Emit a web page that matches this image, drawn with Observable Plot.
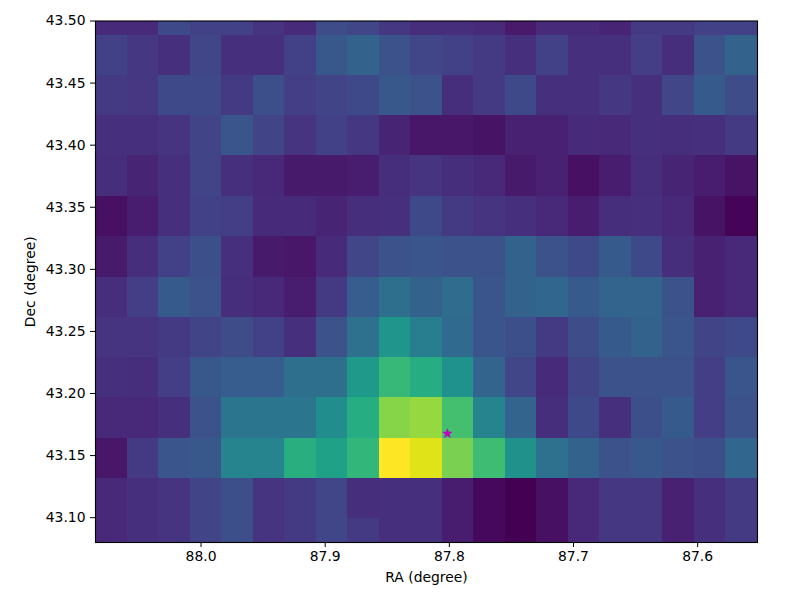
<!DOCTYPE html>
<html>
<head>
<meta charset="utf-8">
<script src="https://cdn.jsdelivr.net/npm/d3@7"></script>
<script src="https://cdn.jsdelivr.net/npm/@observablehq/plot@0.6"></script>
<style>html,body{margin:0;padding:0;background:#fff}svg{display:block}</style>
</head>
<body>
<div id="chart"></div>
<script>
const raEdges = [88.085,88.0596,88.0342,88.0088,87.9834,87.9581,87.9327,87.9073,87.8819,87.8565,87.8311,87.8057,87.7803,87.7549,87.7295,87.7042,87.6788,87.6534,87.6280,87.6026,87.5772,87.5518];
const decEdges = [43.50,43.4887,43.4562,43.4237,43.3913,43.3588,43.3263,43.2938,43.2614,43.2289,43.1964,43.1639,43.1315,43.0990,43.08];
const row00 = [.12,.12,.22,.19,.19,.15,.12,.23,.21,.16,.13,.13,.12,.07,.12,.12,.1,.17,.17,.19,.19];
const row01 = [.19,.16,.14,.21,.14,.14,.19,.27,.31,.25,.21,.19,.17,.14,.19,.14,.14,.18,.13,.25,.31];
const row02 = [.17,.16,.22,.22,.17,.24,.18,.2,.22,.27,.25,.13,.17,.22,.14,.14,.16,.14,.21,.28,.23];
const row03 = [.14,.14,.15,.2,.26,.2,.15,.19,.16,.1,.06,.06,.05,.09,.09,.12,.11,.14,.13,.14,.17];
const row04 = [.13,.1,.14,.2,.14,.11,.07,.07,.08,.13,.15,.13,.11,.07,.09,.04,.08,.13,.1,.08,.05];
const row05 = [.04,.08,.14,.19,.18,.12,.12,.1,.13,.14,.22,.17,.15,.14,.11,.08,.13,.14,.11,.05,.01];
const row06 = [.07,.13,.19,.24,.14,.07,.06,.12,.21,.25,.26,.25,.25,.31,.25,.22,.28,.22,.13,.09,.11];
const row07 = [.13,.18,.28,.25,.13,.11,.08,.17,.29,.36,.31,.35,.26,.31,.33,.28,.32,.32,.25,.09,.11];
const row08 = [.15,.15,.17,.2,.23,.19,.14,.25,.37,.52,.42,.34,.26,.24,.17,.23,.28,.31,.26,.2,.22];
const row09 = [.14,.13,.18,.27,.29,.29,.36,.36,.54,.67,.62,.51,.32,.21,.12,.2,.25,.25,.25,.18,.26];
const row10 = [.11,.11,.14,.25,.39,.39,.39,.49,.62,.82,.84,.7,.45,.32,.13,.22,.14,.24,.28,.18,.25];
const row11 = [.06,.17,.26,.27,.45,.45,.63,.57,.66,1,.95,.8,.69,.5,.37,.31,.25,.27,.25,.24,.33];
const row12 = [.11,.14,.15,.2,.24,.15,.17,.21,.13,.14,.14,.08,.02,0,.04,.11,.16,.16,.09,.14,.17];
const row13 = [.11,.14,.15,.2,.24,.15,.17,.21,.17,.14,.14,.08,.02,0,.04,.11,.16,.16,.09,.14,.17];
const rows = [row00,row01,row02,row03,row04,row05,row06,row07,row08,row09,row10,row11,row12,row13];
const raTicks = [88.0,87.9,87.8,87.7,87.6];
const decTicks = [43.10,43.15,43.20,43.25,43.30,43.35,43.40,43.45,43.50];
const source = [{ra:87.8016, dec:43.1677}];

const cells = rows.flatMap((r, j) => r.map((v, i) => ({
  ra1: raEdges[i], ra2: raEdges[i + 1], dec1: decEdges[j + 1], dec2: decEdges[j], v
})));

const plot = Plot.plot({
  width: 800, height: 600,
  marginLeft: 95, marginRight: 43, marginTop: 20.5, marginBottom: 58,
  style: {fontFamily: "'DejaVu Sans'", fontSize: "13.9px", background: "#fff", color: "#000"},
  x: {domain: [88.085, 87.5518]},
  y: {domain: [43.08, 43.50]},
  color: {type: "linear", scheme: "viridis", domain: [0, 1]},
  marks: [
    Plot.rect(cells, {x1: "ra1", x2: "ra2", y1: "dec1", y2: "dec2", fill: "v", shapeRendering: "crispEdges"}),
    Plot.dot(source, {x: "ra", y: "dec", symbol: "star", r: 2.9, fill: "#bf00bf", stroke: "#bf00bf", strokeWidth: 0.6}),
    Plot.frame({stroke: "#000", strokeWidth: 1.1}),
    Plot.axisX({ticks: raTicks, tickFormat: d => d.toFixed(1), tickSize: 5, tickPadding: 4,
      label: "RA (degree)", labelAnchor: "center", labelArrow: "none", labelOffset: 39, stroke: "#000", fill: "#000"}),
    Plot.axisY({ticks: decTicks, tickFormat: d => d.toFixed(2), tickSize: 5, tickPadding: 5,
      label: "Dec (degree)", labelAnchor: "center", labelArrow: "none", labelOffset: 70, stroke: "#000", fill: "#000"})
  ]
});
document.getElementById("chart").appendChild(plot);
</script>
</body>
</html>
